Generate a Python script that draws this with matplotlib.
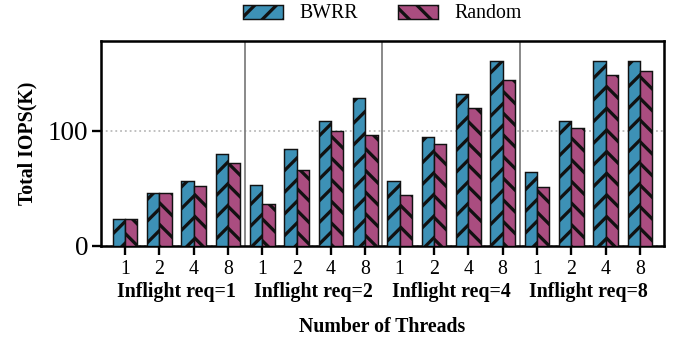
import numpy as np
import matplotlib
matplotlib.use("Agg")
import matplotlib.pyplot as plt

# Data -----------------------------------------------------------------------
threads = ["1", "2", "4", "8"]
inflight_groups = ["Inflight req=1", "Inflight req=2", "Inflight req=4", "Inflight req=8"]
bwrr = [23, 46, 56, 80,
        53, 84, 108, 128,
        56, 94, 132, 160,
        64, 108, 160, 160]
random_sched = [23, 46, 52, 72,
                36, 66, 100, 96,
                44, 88, 120, 144,
                51, 102, 148, 152]
series_names = ["BWRR", "Random"]

# Style ------------------------------------------------------------------------
plt.rcParams["font.family"] = ["Liberation Serif", "DejaVu Serif"]
plt.rcParams["hatch.linewidth"] = 1.8
plt.rcParams["hatch.color"] = "black"
blue = "#3d91b6"
magenta = "#aa4d80"

DPI = 130
LEFT, RIGHT, BOTTOM, TOP = 0.1483, 0.975, 0.2795, 0.8806
fig = plt.figure(figsize=(681 / DPI, 341 / DPI), dpi=DPI)
ax = fig.add_axes([LEFT, BOTTOM, RIGHT - LEFT, TOP - BOTTOM])

n_per_group = len(threads)
x = np.arange(len(bwrr))
w = 0.36

ax.bar(x - w / 2, bwrr, width=w, color=blue, edgecolor="#111111",
       linewidth=0.8, hatch="//", label=series_names[0], zorder=3)
ax.bar(x + w / 2, random_sched, width=w, color=magenta, edgecolor="#111111",
       linewidth=0.8, hatch="\\\\", label=series_names[1], zorder=3)

# group separators
for g in range(1, len(inflight_groups)):
    ax.axvline(g * n_per_group - 0.5, color="#808080", linewidth=1.0, zorder=2)

ax.set_xlim(-0.7, len(bwrr) - 0.3)
ax.set_ylim(0, 178)
ax.set_yticks([0, 100])
ax.tick_params(axis="y", labelsize=15, length=5, width=1.3, pad=2)
ax.yaxis.grid(True, linestyle=":", color="#bbbbbb", linewidth=1.0, zorder=0)
ax.set_axisbelow(True)

ax.set_xticks(x)
ax.set_xticklabels(threads * len(inflight_groups))
ax.tick_params(axis="x", labelsize=11, length=5, width=1.3, pad=3)

for s in ax.spines.values():
    s.set_linewidth(1.4)

ax.set_ylabel("Total IOPS(K)", fontsize=11, fontweight="bold", labelpad=6)

# group labels below the thread ticks
for g, name in enumerate(inflight_groups):
    cx = g * n_per_group + (n_per_group - 1) / 2
    ax.text(cx, -0.225, name, transform=ax.get_xaxis_transform(),
            ha="center", va="center", fontsize=11, fontweight="bold")

center_x = (LEFT + RIGHT) / 2
fig.text(center_x, 1 - 327 / 341, "Number of Threads",
         ha="center", va="center", fontsize=11, fontweight="bold")

ax.legend(loc="center", bbox_to_anchor=(center_x, 1 - 14 / 341),
          bbox_transform=fig.transFigure, ncol=2, frameon=False,
          fontsize=11, handlelength=2.0, handleheight=0.7,
          handletextpad=0.85, columnspacing=2.0, borderpad=0.2)

fig.savefig("out.png", dpi=DPI)
